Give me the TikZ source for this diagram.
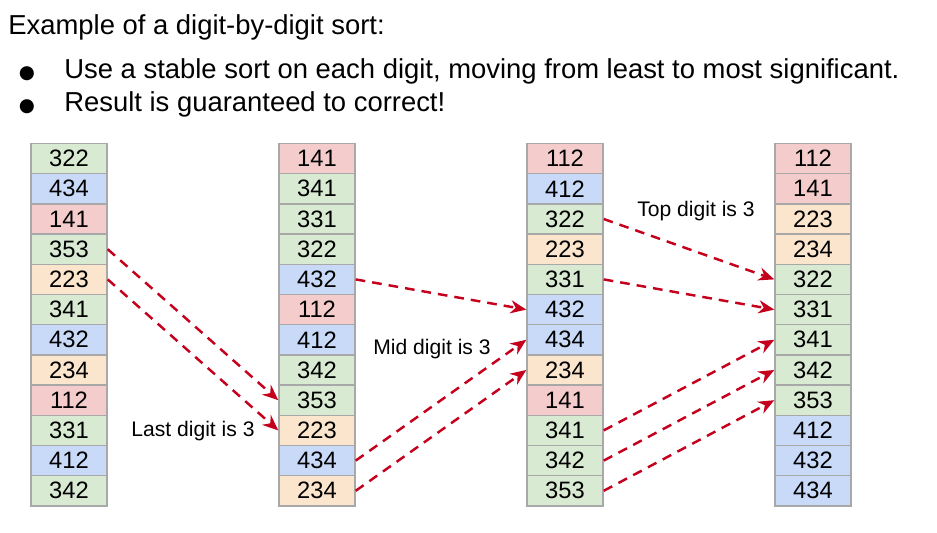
\documentclass[tikz,border=0pt]{standalone}
\usepackage{fontspec}
\setmainfont{Liberation Sans}
\newfontfamily\dotfont{DejaVu Sans}
\usetikzlibrary{arrows.meta}
\definecolor{dig1}{HTML}{F4CCCC}
\definecolor{dig2}{HTML}{FCE5CD}
\definecolor{dig3}{HTML}{D9EAD3}
\definecolor{dig4}{HTML}{C9DAF8}
\definecolor{cellline}{HTML}{A8A8A8}
\definecolor{arrowred}{HTML}{C4001C}
\tikzset{
	cell/.style={draw=cellline,line width=0.8pt,minimum width=1.52cm,minimum height=0.604cm,inner sep=0pt,font=\fontsize{13.5}{16}\selectfont},
	move/.style={->,draw=arrowred,line width=1.4pt,dash pattern=on 5.5pt off 4pt},
	lbl/.style={font=\fontsize{12}{14}\selectfont,inner sep=0pt},
	txt/.style={anchor=base west,inner sep=0pt,font=\fontsize{15.6}{18}\selectfont},
	dot/.style={anchor=base,inner sep=0pt,font=\dotfont\fontsize{10.5}{10.5}\selectfont}
}
\begin{document}
\begin{tikzpicture}[>={Stealth[length=9pt,width=7.5pt]}]
	\useasboundingbox (0,0) rectangle (18.74,10.64);
	\node[txt] (title) at (0.16,9.96) {Example of a digit-by-digit sort:};
	\node[dot] (dot1) at (0.54,9.08) {●};
	\node[txt] (tip1) at (1.28,9.08) {Use a stable sort on each digit, moving from least to most significant.};
	\node[dot] (dot2) at (0.54,8.42) {●};
	\node[txt] (tip2) at (1.28,8.42) {Result is guaranteed to correct!};
	\foreach \vals [count=\c] in {{322,434,141,353,223,341,432,234,112,331,412,342},{141,341,331,322,432,112,412,342,353,223,434,234},{112,412,322,223,331,432,434,234,141,341,342,353},{112,141,223,234,322,331,341,342,353,412,432,434}}{
		\foreach \v [count=\r] in \vals {
			\pgfmathtruncatemacro{\hd}{\v/100}
			\node[cell,fill=dig\hd] (c\c-\r) at ({1.38+(\c-1)*4.96},{7.77-(\r-0.5)*0.604}) {\v};
		}
	}
	\draw[move] (c1-4.east) -- (c2-9.west);
	\draw[move] (c1-5.east) -- (c2-10.west);
	\draw[move] (c2-5.east) -- (c3-6.west);
	\draw[move] (c2-11.east) -- (c3-7.west);
	\draw[move] (c2-12.east) -- (c3-8.west);
	\draw[move] (c3-3.east) -- (c4-5.west);
	\draw[move] (c3-5.east) -- (c4-6.west);
	\draw[move] (c3-10.east) -- (c4-7.west);
	\draw[move] (c3-11.east) -- (c4-8.west);
	\draw[move] (c3-12.east) -- (c4-9.west);
	\node[lbl] (last) at (3.86,2.02) {Last digit is 3};
	\node[lbl] (mid) at (8.64,3.66) {Mid digit is 3};
	\node[lbl] (top) at (13.92,6.42) {Top digit is 3};
\end{tikzpicture}
\end{document}
